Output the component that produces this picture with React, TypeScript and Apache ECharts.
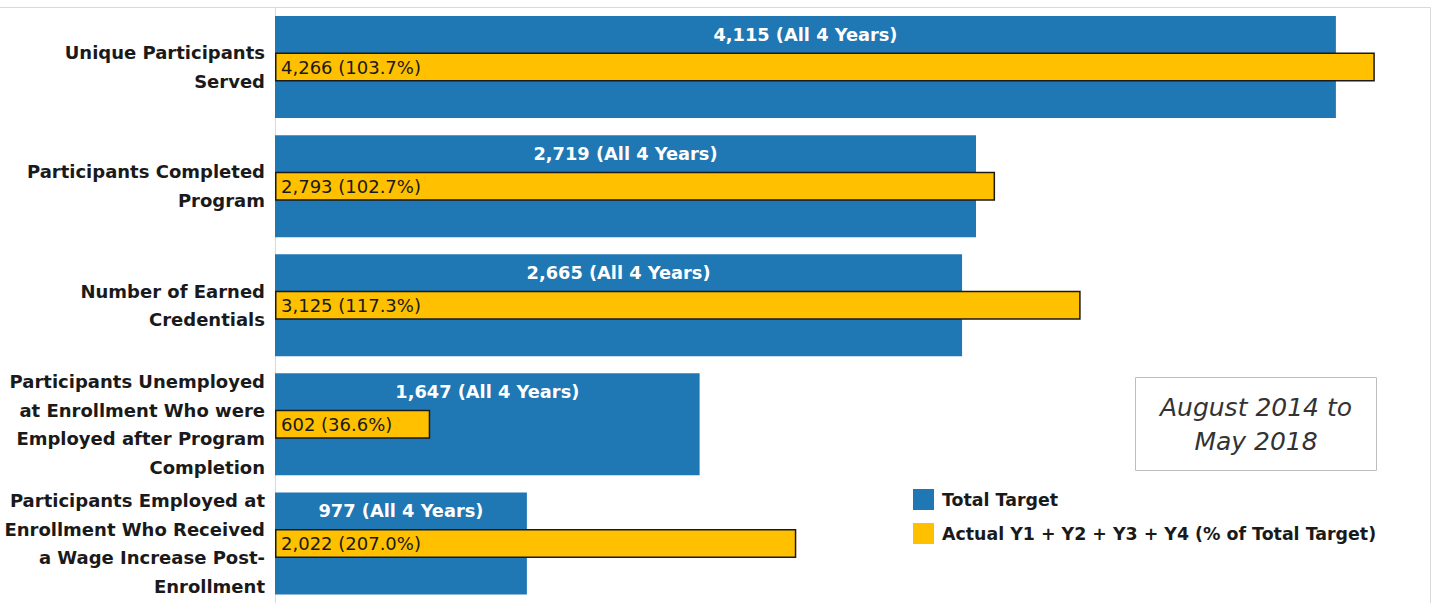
import React, { useEffect, useRef } from "react";
import * as echarts from "echarts";

const categories = [
  "Unique Participants\nServed",
  "Participants Completed\nProgram",
  "Number of Earned\nCredentials",
  "Participants Unemployed\nat Enrollment Who were\nEmployed after Program\nCompletion",
  "Participants Employed at\nEnrollment Who Received\na Wage Increase Post-\nEnrollment",
];
const totalTarget = [4115, 2719, 2665, 1647, 977];
const actual = [4266, 2793, 3125, 602, 2022];
const seriesNames = ["Total Target", "Actual Y1 + Y2 + Y3 + Y4 (% of Total Target)"];
const dateNote = ["August 2014 to", "May 2018"];

const FONT = "'DejaVu Sans', 'Noto Sans', sans-serif";
const BLUE = "#1F77B4";
const GOLD = "#FFC000";
const INK = "#1a1a1a";

const fmt = (v: number) => v.toLocaleString("en-US");

export default function App() {
  const ref = useRef<HTMLDivElement>(null);
  useEffect(() => {
    document.body.style.margin = "0";
    const chart = echarts.init(ref.current!, null, { renderer: "svg" });
    chart.setOption({
      animation: false,
      backgroundColor: "#fff",
      textStyle: { fontFamily: FONT },
      grid: { left: 275, top: 7.5, width: 1155, height: 600.5, containLabel: false },
      xAxis: {
        type: "value",
        min: 0,
        max: 4480,
        show: false,
      },
      yAxis: [
        {
          type: "category",
          data: categories,
          inverse: true,
          axisLine: { show: true, lineStyle: { color: "#d9d9d9", width: 1 } },
          axisTick: { show: false },
          axisLabel: {
            margin: 10,
            fontFamily: FONT,
            fontSize: 18,
            fontWeight: "bold",
            color: INK,
            lineHeight: 28.5,
            align: "right",
          },
        },
        {
          type: "category",
          data: categories,
          inverse: true,
          show: false,
        },
      ],
      legend: {
        show: true,
        orient: "vertical",
        left: 913,
        top: 489,
        padding: 0,
        itemWidth: 21,
        itemHeight: 21,
        itemGap: 13,
        icon: "rect",
        textStyle: { fontFamily: FONT, fontSize: 17.4, fontWeight: "bold", color: INK, padding: [0, 0, 0, 3] },
        data: [
          { name: seriesNames[0], itemStyle: { color: BLUE, borderWidth: 0 } },
          { name: seriesNames[1], itemStyle: { color: GOLD, borderWidth: 0 } },
        ],
      },
      series: [
        {
          name: seriesNames[0],
          type: "bar",
          yAxisIndex: 0,
          data: totalTarget,
          barWidth: 102,
          itemStyle: { color: BLUE },
          label: {
            show: true,
            position: "insideTop",
            distance: 9,
            color: "#fff",
            fontFamily: FONT,
            fontSize: 17.8,
            fontWeight: "bold",
            formatter: (p: any) => `${fmt(p.value)} (All 4 Years)`,
          },
          z: 1,
        },
        {
          name: seriesNames[1],
          type: "bar",
          yAxisIndex: 1,
          data: actual,
          barWidth: 29,
          itemStyle: { color: GOLD, borderColor: INK, borderWidth: 1.5 },
          label: {
            show: true,
            position: "insideLeft",
            distance: 6,
            color: INK,
            fontFamily: FONT,
            fontSize: 18,
            formatter: (p: any) =>
              `${fmt(p.value)} (${((p.value / totalTarget[p.dataIndex]) * 100).toFixed(1)}%)`,
          },
          z: 2,
        },
      ],
      graphic: [
        { type: "line", shape: { x1: 0, y1: 7.5, x2: 1430.5, y2: 7.5 }, style: { stroke: "#d9d9d9", lineWidth: 1 } },
        { type: "line", shape: { x1: 1430.5, y1: 7.5, x2: 1430.5, y2: 603 }, style: { stroke: "#d9d9d9", lineWidth: 1 } },
        {
          type: "rect",
          shape: { x: 1135.5, y: 377.5, width: 241, height: 93 },
          style: { fill: "#fff", stroke: "#bfbfbf", lineWidth: 1 },
        },
        {
          type: "text",
          x: 1256,
          y: 407,
          style: {
            text: dateNote[0],
            fontFamily: FONT,
            fontSize: 25,
            fontStyle: "italic",
            fill: "#333",
            align: "center",
            verticalAlign: "middle",
          },
        },
        {
          type: "text",
          x: 1256,
          y: 441,
          style: {
            text: dateNote[1],
            fontFamily: FONT,
            fontSize: 25,
            fontStyle: "italic",
            fill: "#333",
            align: "center",
            verticalAlign: "middle",
          },
        },
      ],
    });
    return () => chart.dispose();
  }, []);
  return <div ref={ref} style={{ width: 1433, height: 603 }} />;
}
